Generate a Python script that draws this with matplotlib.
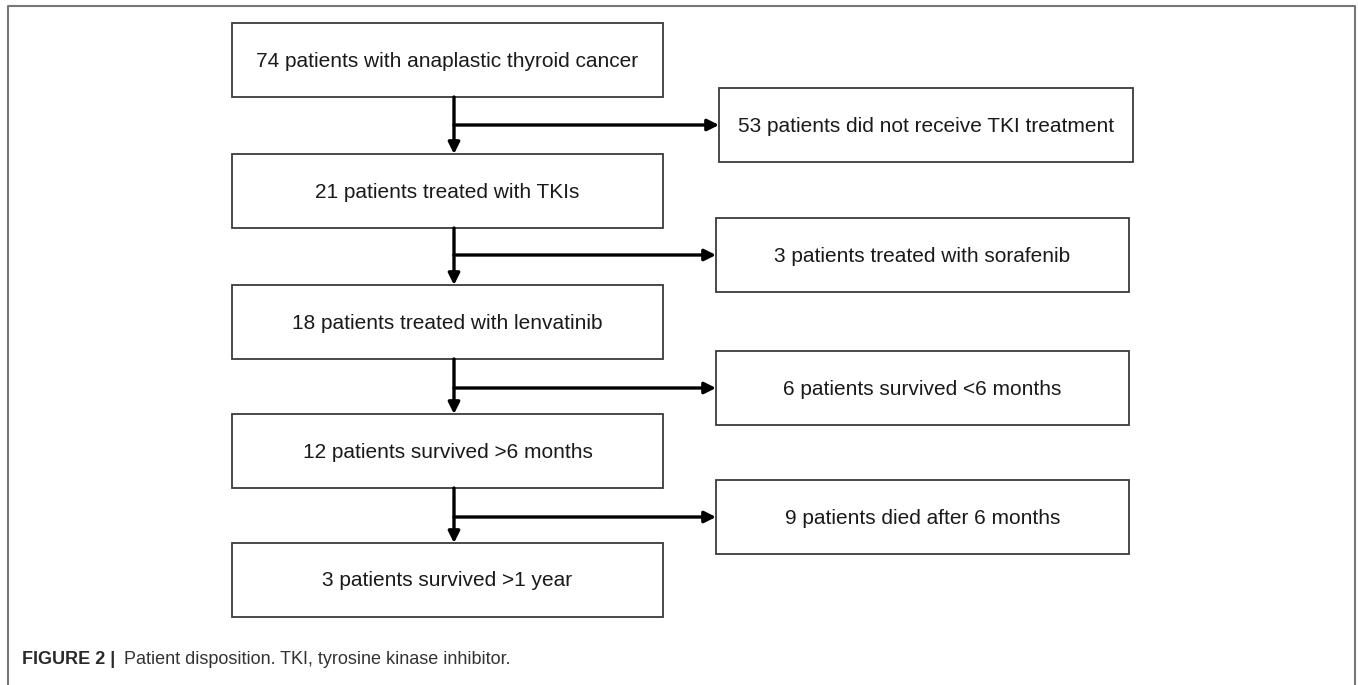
import matplotlib
matplotlib.use('Agg')
from matplotlib import pyplot as plt
from matplotlib.patches import Rectangle

plt.rcParams['font.family'] = ['Liberation Sans', 'DejaVu Sans']

main_steps = ['74 patients with anaplastic thyroid cancer',
              '21 patients treated with TKIs',
              '18 patients treated with lenvatinib',
              '12 patients survived >6 months',
              '3 patients survived >1 year']
excluded = ['53 patients did not receive TKI treatment',
            '3 patients treated with sorafenib',
            '6 patients survived <6 months',
            '9 patients died after 6 months']

# layout in pixel units
main_top = [23, 154, 285, 414, 543]
side_top = [88, 218, 351, 480]
box_h = 74
main_x0, main_x1 = 232, 663
side_x0 = [719, 716, 716, 716]
side_x1 = [1133, 1129, 1129, 1129]
stem_x = 454

fig = plt.figure(figsize=(13.58, 6.85), dpi=100)
ax = fig.add_axes([0, 0, 1, 1])
ax.set_xlim(0, 1358)
ax.set_ylim(685, 0)
ax.axis('off')

# outer frame
ax.plot([8, 8, 1355, 1355], [685, 6, 6, 685], color='#777777', lw=1.5)

for lab, top in zip(main_steps, main_top):
    ax.add_patch(Rectangle((main_x0, top), main_x1 - main_x0, box_h,
                           fill=False, ec='#3a3a3a', lw=1.3))
    ax.text((main_x0 + main_x1) / 2, top + box_h / 2 + 1, lab,
            ha='center', va='center', fontsize=15, color='#1a1a1a')

for i, (lab, top) in enumerate(zip(excluded, side_top)):
    x0, x1 = side_x0[i], side_x1[i]
    ax.add_patch(Rectangle((x0, top), x1 - x0, box_h,
                           fill=False, ec='#3a3a3a', lw=1.3))
    ax.text((x0 + x1) / 2, top + box_h / 2 + 1, lab,
            ha='center', va='center', fontsize=15, color='#1a1a1a')
    y0 = main_top[i] + box_h
    y1 = main_top[i + 1]
    ymid = top + box_h / 2
    ax.annotate('', xy=(stem_x, y1), xytext=(stem_x, y0),
                arrowprops=dict(arrowstyle='-|>', color='black', lw=2.4,
                                mutation_scale=17, shrinkA=0, shrinkB=0))
    ax.annotate('', xy=(x0, ymid), xytext=(stem_x, ymid),
                arrowprops=dict(arrowstyle='-|>', color='black', lw=2.4,
                                mutation_scale=17, shrinkA=0, shrinkB=0))

ax.text(22, 660, 'FIGURE 2 |', fontsize=13, fontweight='bold',
        color='#2a2a2a', ha='left', va='center')
ax.text(124, 660, 'Patient disposition. TKI, tyrosine kinase inhibitor.',
        fontsize=13, color='#333333', ha='left', va='center')

fig.savefig('out.png', dpi=100)
